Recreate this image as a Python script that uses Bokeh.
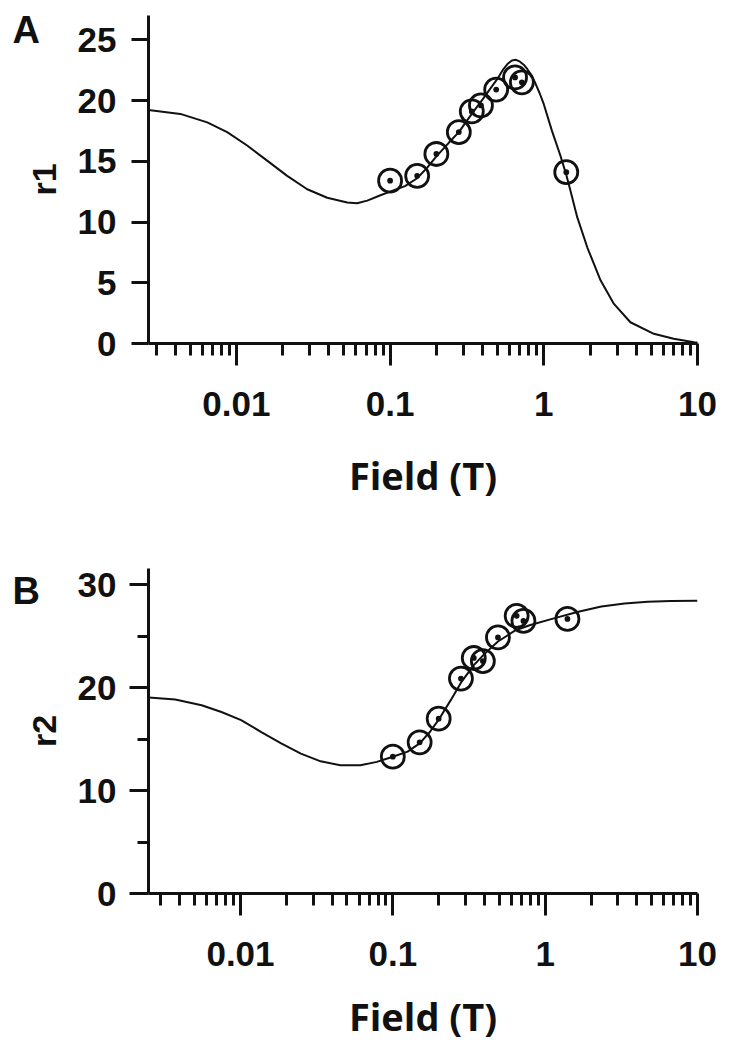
from bokeh.plotting import figure
from bokeh.layouts import column
from bokeh.models import FixedTicker, Label
from bokeh.embed import file_html
from bokeh.resources import INLINE

# ---- data ----
field_T = [0.1, 0.15, 0.2, 0.28, 0.34, 0.39, 0.49, 0.65, 0.72, 1.4]
r1 = [13.4, 13.8, 15.6, 17.4, 19.1, 19.6, 20.9, 21.9, 21.5, 14.1]
r2 = [13.3, 14.7, 17.0, 20.9, 22.9, 22.6, 24.9, 27.0, 26.5, 26.7]

fit1_field = [0.002, 0.00268, 0.00432, 0.00646, 0.00871, 0.01175, 0.01585, 0.0214,
              0.0289, 0.039, 0.0526, 0.061, 0.071, 0.0866, 0.1, 0.125, 0.15, 0.175,
              0.2, 0.24, 0.28, 0.34, 0.4, 0.45, 0.5, 0.54, 0.58, 0.62, 0.66, 0.7,
              0.74, 0.78, 0.83, 0.883, 0.94, 1.0, 1.13, 1.28, 1.4, 1.49, 1.65,
              1.92, 2.34, 2.86, 3.66, 5.2, 7.0, 9.5, 10]
fit1_r1 = [19.3, 19.22, 18.9, 18.2, 17.4, 16.3, 15.05, 13.8,
           12.7, 12.0, 11.6, 11.55, 11.76, 12.2, 12.5, 12.95, 13.6, 14.5,
           15.4, 16.5, 17.4, 18.9, 20.1, 21.0, 21.8, 22.5, 23.0, 23.3, 23.35, 23.2,
           22.95, 22.6, 22.1, 21.4, 20.6, 19.7, 17.5, 15.5, 13.9, 12.6, 10.4,
           7.9, 5.2, 3.26, 1.75, 0.8, 0.39, 0.1, 0.08]

fit2_field = [0.002, 0.0025, 0.00373, 0.00556, 0.0075, 0.0101, 0.0137, 0.0185,
              0.0249, 0.0336, 0.0453, 0.0612, 0.0785, 0.091, 0.1, 0.125, 0.15,
              0.175, 0.2, 0.24, 0.28, 0.34, 0.4, 0.49, 0.64, 0.8, 1.14, 1.65,
              2.34, 3.32, 4.71, 6.68, 10]
fit2_r2 = [19.15, 19.05, 18.86, 18.3, 17.65, 16.85, 15.7, 14.6,
           13.6, 12.85, 12.46, 12.46, 12.8, 13.1, 13.3, 13.8, 14.6,
           15.7, 16.9, 18.8, 20.5, 22.2, 23.3, 24.5, 25.6, 26.1, 26.75, 27.4,
           27.9, 28.2, 28.36, 28.43, 28.47]

x_major = [0.01, 0.1, 1, 10]
x_labels = ["0.01", "0.1", "1", "10"]
x_minor = [m * 10.0 ** k for k in (-3, -2, -1, 0) for m in range(2, 10)]
r1_ticks = [0, 5, 10, 15, 20, 25]
r2_ticks = [0, 10, 20, 30]
r2_minor = [5, 15, 25]

BLACK = "#111111"
TICK_FONT = "Liberation Sans"


def make_panel(x_start, y_end, ylabel, letter, yticks, yminor, width, height,
               left, top, bottom, xlabel_standoff, ytick_out, ylab_standoff,
               letter_xy):
    p = figure(width=width, height=height, x_axis_type="log",
               x_range=(x_start, 10), y_range=(0, y_end),
               output_backend="svg", toolbar_location=None,
               min_border_left=left, min_border_right=35,
               min_border_top=top, min_border_bottom=bottom)
    p.outline_line_color = None
    p.xgrid.visible = False
    p.ygrid.visible = False
    p.background_fill_color = "white"

    p.xaxis.ticker = FixedTicker(ticks=x_major, minor_ticks=x_minor)
    p.xaxis.major_label_overrides = dict(zip(x_major, x_labels))
    p.yaxis.ticker = FixedTicker(ticks=yticks, minor_ticks=yminor)

    for ax in (p.xaxis[0], p.yaxis[0]):
        ax.axis_line_width = 3
        ax.axis_line_color = BLACK
        ax.major_tick_line_width = 3
        ax.major_tick_line_color = BLACK
        ax.minor_tick_line_width = 3
        ax.minor_tick_line_color = BLACK
        ax.major_tick_in = 0
        ax.minor_tick_in = 0
        ax.major_label_text_font = TICK_FONT
        ax.major_label_text_font_style = "bold"
        ax.major_label_text_font_size = "35px"
        ax.major_label_text_color = BLACK
        ax.axis_label_text_color = BLACK
        ax.axis_label_text_font_style = "bold"

    p.xaxis.major_tick_out = 22
    p.xaxis.minor_tick_out = 12
    p.xaxis.major_label_standoff = 26
    p.xaxis.axis_label = "Field (T)"
    p.xaxis.axis_label_text_font = "Open Sans"
    p.xaxis.axis_label_text_font_size = "38px"
    p.xaxis.axis_label_standoff = xlabel_standoff

    p.yaxis.major_tick_out = ytick_out
    p.yaxis.minor_tick_out = 11
    p.yaxis.major_label_standoff = ylab_standoff
    p.yaxis.axis_label = ylabel
    p.yaxis.axis_label_text_font = TICK_FONT
    p.yaxis.axis_label_text_font_size = "34px"
    p.yaxis.axis_label_standoff = 12

    # panel letter, kept in the (wide enough) right border so it does not
    # change the frame size, and positioned in canvas pixels
    p.add_layout(Label(x=letter_xy[0], y=letter_xy[1], x_units="canvas",
                       y_units="canvas", text=letter, text_font=TICK_FONT,
                       text_font_style="bold", text_font_size="38px",
                       text_color=BLACK, text_baseline="alphabetic"), "right")
    return p


pA = make_panel(0.00268, 27, "r1", "A", r1_ticks, [], 732, 540,
                148, 15, 197, 30, 17, 15, (12, 29))
pA.line(fit1_field, fit1_r1, line_color=BLACK, line_width=2)
pA.scatter(field_T, r1, marker="circle_dot", size=23, line_color=BLACK,
           line_width=2.8, fill_alpha=0)

pB = make_panel(0.00249, 31.6, "r2", "B", r2_ticks, r2_minor, 732, 510,
                143, 28, 157, 21, 19, 13, (12, 50))
pB.line(fit2_field, fit2_r2, line_color=BLACK, line_width=2)
pB.scatter(field_T, r2, marker="circle_dot", size=23, line_color=BLACK,
           line_width=2.8, fill_alpha=0)

layout = column(pA, pB)
open("out.html", "w").write(file_html(layout, INLINE))
